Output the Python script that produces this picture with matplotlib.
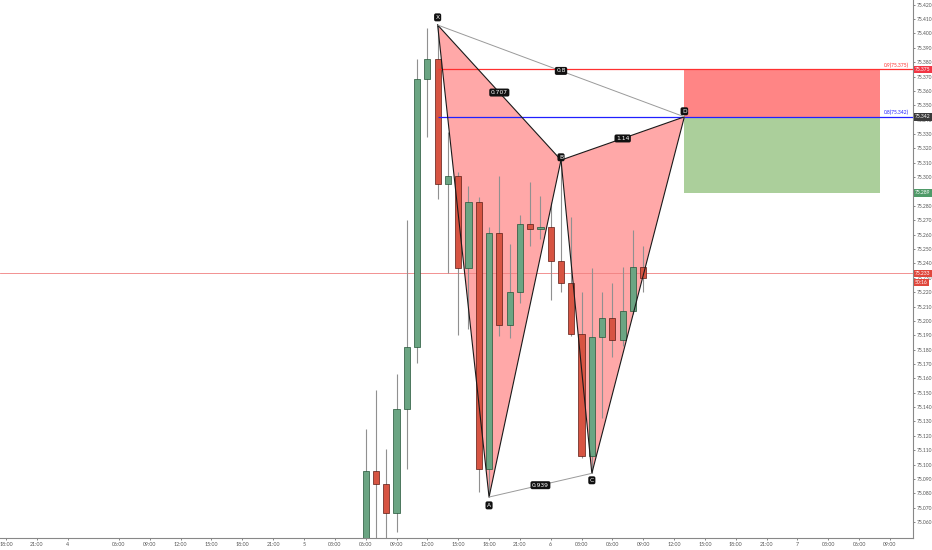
import matplotlib
matplotlib.use("Agg")
import matplotlib.pyplot as plt
from matplotlib.patches import Polygon, Rectangle

# ---------------- data ----------------
# hours relative to day "5" 00:00
hours = [6, 7, 8, 9, 10, 11, 12, 13, 14, 15, 16, 17, 18, 19,
         20, 21, 22, 23, 24, 25, 26, 27, 28, 29, 30, 31, 32, 33]
opens = [75.040, 75.0955, 75.0867, 75.0663, 75.1386, 75.1818, 75.3683, 75.3822,
         75.2952, 75.3008, 75.2368, 75.2827, 75.0969, 75.2611, 75.1971, 75.2201,
         75.2674, 75.2639, 75.2653, 75.2416, 75.2263, 75.1908, 75.1059, 75.1888,
         75.2020, 75.1867, 75.2069, 75.2375]
highs = [75.1247, 75.1519, 75.1108, 75.1630, 75.2702, 75.3822, 75.4038, 75.4059,
         75.3314, 75.3036, 75.2938, 75.2862, 75.2653, 75.3008, 75.2535, 75.2737,
         75.2966, 75.2869, 75.2827, 75.3119, 75.2723, 75.2201, 75.2368, 75.2201,
         75.2263, 75.2375, 75.2632, 75.2521]
lows = [75.035, 75.040, 75.045, 75.0531, 75.0969, 75.1707, 75.3279, 75.2848,
        75.2333, 75.1901, 75.1943, 75.0809, 75.0774, 75.1894, 75.1881, 75.2124,
        75.2521, 75.2570, 75.2145, 75.2201, 75.1894, 75.1045, 75.0939, 75.1324,
        75.1748, 75.1825, 75.2050, 75.2201]
closes = [75.0955, 75.0867, 75.0663, 75.1386, 75.1818, 75.3683, 75.3822, 75.2952,
          75.3008, 75.2368, 75.2827, 75.0969, 75.2611, 75.1971, 75.2201, 75.2674,
          75.2639, 75.2653, 75.2416, 75.2263, 75.1908, 75.1059, 75.1888, 75.2020,
          75.1867, 75.2069, 75.2375, 75.2300]

# harmonic pattern points
pt_labels = ["X", "A", "B", "C", "D"]
pt_hours = [13, 18, 25, 28, 37]
pt_prices = [75.4059, 75.0774, 75.3119, 75.0939, 75.342]
ratio_xb = "0.707"
ratio_ac = "0.939"
ratio_bd = "1.14"
ratio_xd = "0.8"

# levels / position tool
stop_level = 75.375
entry_level = 75.342
target_level = 75.289
last_price = 75.233
countdown = "50:16"
stop_text = "0.9(75.375)"
entry_text = "0.8(75.342)"
box_end_hour = 56

# x axis ticks
tick_hours = [-29, -26, -23, -18, -15, -12, -9, -6, -3, 0, 3, 6, 9, 12, 15, 18, 21,
              24, 27, 30, 33, 36, 39, 42, 45, 48, 51, 54, 57]
tick_labels = ["18:00", "21:00", "4", "06:00", "09:00", "12:00", "15:00", "18:00",
               "21:00", "5", "03:00", "06:00", "09:00", "12:00", "15:00", "18:00",
               "21:00", "6", "03:00", "06:00", "09:00", "12:00", "15:00", "18:00",
               "21:00", "7", "03:00", "06:00", "09:00"]
y_ticks = [round(75.06 + 0.01 * i, 3) for i in range(37)]

# ---------------- figure ----------------
W, H = 932, 550
fig = plt.figure(figsize=(W / 100, H / 100), dpi=100)
ax = fig.add_axes([0, 12 / H, 913 / W, 538 / H])
ax.set_xlim(-29.57, 59.24)
ax.set_ylim(75.0489, 75.4233)

GREEN = "#6ba583"
RED = "#d75442"
GREEN_E = "#225437"
RED_E = "#5b1a13"
PINK = "#ffa8a8"
TICKFONT = "Lato"

X, A, B, C, D = [(h, p) for h, p in zip(pt_hours, pt_prices)]

# pattern fills
ax.add_patch(Polygon([X, A, B], closed=True, facecolor=PINK, edgecolor="none", zorder=1))
ax.add_patch(Polygon([B, C, D], closed=True, facecolor=PINK, edgecolor="none", zorder=1))

# position tool boxes
ax.add_patch(Rectangle((D[0], entry_level), box_end_hour - D[0], stop_level - entry_level,
                       facecolor="#ff8585", edgecolor="none", zorder=1))
ax.add_patch(Rectangle((D[0], target_level), box_end_hour - D[0], entry_level - target_level,
                       facecolor="#abcf9b", edgecolor="none", zorder=1))

# last price line
ax.axhline(last_price, color="#f08080", lw=0.6, zorder=1)

# candles
for h, o, hi, lo, c in zip(hours, opens, highs, lows, closes):
    up = c >= o
    ax.vlines(h, lo, hi, color="#909090", lw=0.8, zorder=2)
    ax.bar(h, abs(c - o) if abs(c - o) > 0.0006 else 0.0006, bottom=min(o, c), width=0.6,
           color=GREEN if up else RED, edgecolor=GREEN_E if up else RED_E,
           linewidth=0.5, zorder=3)

# level lines
ax.hlines(stop_level, X[0], 59.3, color="#ff3030", lw=0.9, zorder=4)
ax.hlines(entry_level, X[0], 59.3, color="#2020ff", lw=0.9, zorder=4)

# pattern lines
ax.plot([X[0], A[0], B[0], X[0]], [X[1], A[1], B[1], X[1]], color="#1a1a1a", lw=0.8, zorder=5)
ax.plot([B[0], C[0], D[0], B[0]], [B[1], C[1], D[1], B[1]], color="#1a1a1a", lw=0.8, zorder=5)
ax.plot([X[0], D[0]], [X[1], D[1]], color="#9a9a9a", lw=0.7, zorder=5)
ax.plot([A[0], C[0]], [A[1], C[1]], color="#9a9a9a", lw=0.7, zorder=5)

box = dict(boxstyle="round,pad=0.25,rounding_size=0.3", fc="#111111", ec="none")


def tag(x, y, s, dy=0):
    ax.annotate(s, (x, y), xytext=(0, dy), textcoords="offset points", ha="center",
                va="center", fontsize=4.3, color="white", bbox=box, zorder=7)


tag((X[0] + B[0]) / 2, (X[1] + B[1]) / 2, ratio_xb)
tag((A[0] + C[0]) / 2, (A[1] + C[1]) / 2, ratio_ac)
tag((B[0] + D[0]) / 2, (B[1] + D[1]) / 2, ratio_bd)
tag((X[0] + D[0]) / 2, (X[1] + D[1]) / 2, ratio_xd)
offs = {"X": 5.5, "A": -6, "B": 2, "C": -5, "D": 4}
for lab, (h, p) in zip(pt_labels, [X, A, B, C, D]):
    tag(h, p, lab, offs[lab])

# small level texts
ax.annotate(stop_text, (1.0, stop_level), xycoords=("axes fraction", "data"),
            xytext=(-3, 1.2), textcoords="offset points", ha="right", va="bottom",
            fontsize=3.5, color="#ff3030", family=TICKFONT)
ax.annotate(entry_text, (1.0, entry_level), xycoords=("axes fraction", "data"),
            xytext=(-3, 1.2), textcoords="offset points", ha="right", va="bottom",
            fontsize=3.5, color="#2020ff", family=TICKFONT)

# axes styling
for s in ["top", "left"]:
    ax.spines[s].set_visible(False)
ax.spines["right"].set_color("#888888")
ax.spines["bottom"].set_color("#888888")
ax.spines["right"].set_linewidth(0.8)
ax.spines["bottom"].set_linewidth(0.8)
ax.yaxis.tick_right()
ax.set_yticks(y_ticks)
ax.set_yticklabels([f"{v:.3f}" for v in y_ticks], family=TICKFONT)
ax.set_xticks(tick_hours)
ax.set_xticklabels(tick_labels, family=TICKFONT)
ax.tick_params(axis="y", labelsize=3.6, colors="#555555", length=1.5, width=0.5, pad=1.0)
ax.tick_params(axis="x", labelsize=3.8, colors="#555555", length=1.5, width=0.5, pad=1.5)


# price tags on the right axis
def ptag(y, s, fc, dy=0):
    ax.annotate(s, (1.0, y), xycoords=("axes fraction", "data"), xytext=(1.5, dy),
                textcoords="offset points", ha="left", va="center", fontsize=3.6,
                color="white", zorder=8, annotation_clip=False, family=TICKFONT,
                bbox=dict(boxstyle="square,pad=0.25", fc=fc, ec="none"))


ptag(stop_level, f"{stop_level:.3f}", "#f23645")
ptag(entry_level, f"{entry_level:.3f}", "#3a3a3a")
ptag(target_level, f"{target_level:.3f}", "#4f9a68")
ptag(last_price, f"{last_price:.3f}", "#e0473c")
ptag(last_price, countdown, "#e0473c", dy=-6.5)

fig.savefig("out.png", dpi=100, facecolor="white")
